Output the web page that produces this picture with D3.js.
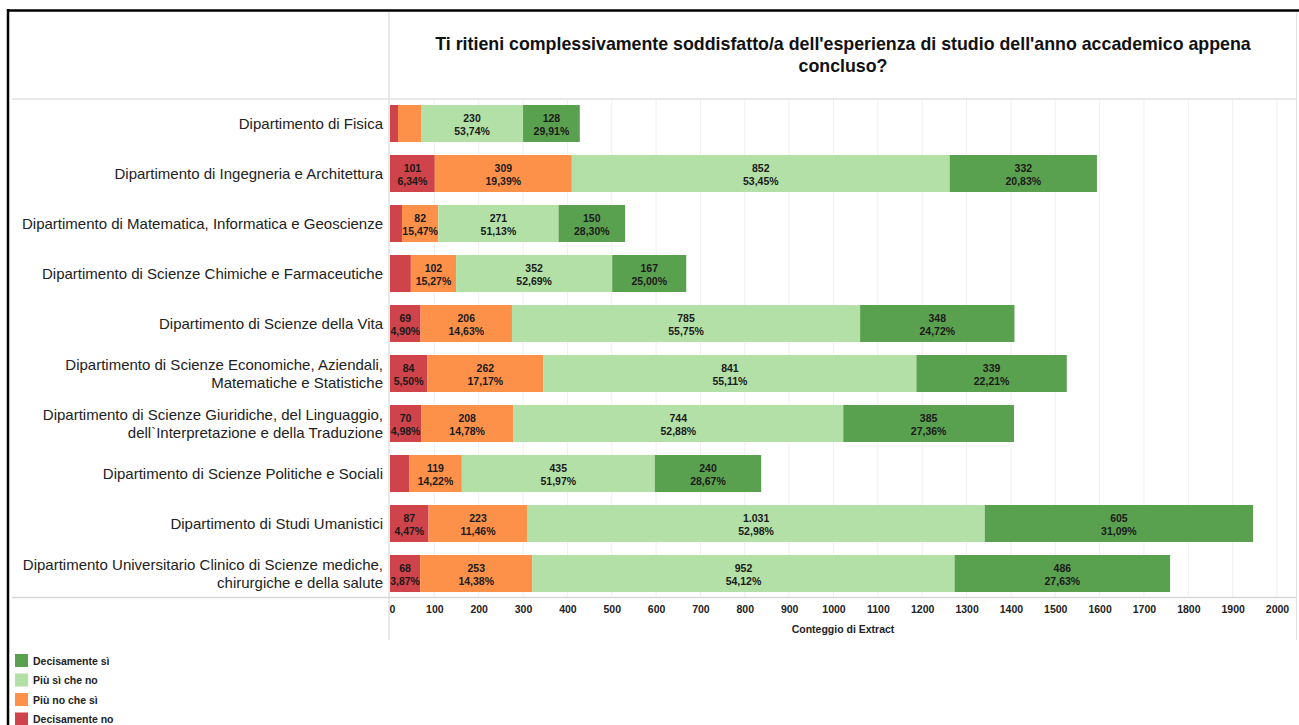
<!DOCTYPE html>
<html>
<head>
    <meta charset="utf-8">
    <title>Soddisfazione anno accademico</title>
    <script src="https://d3js.org/d3.v7.min.js"></script>
    <style>
        body { margin: 0; background: #fff; }
        svg { font-family: "Liberation Sans", Arial, sans-serif; display: block; }
    </style>
</head>
<body>
    <svg width="1299" height="725"></svg>
    <script>
        // data
        var departments = [
            ["Dipartimento di Fisica"],
            ["Dipartimento di Ingegneria e Architettura"],
            ["Dipartimento di Matematica, Informatica e Geoscienze"],
            ["Dipartimento di Scienze Chimiche e Farmaceutiche"],
            ["Dipartimento di Scienze della Vita"],
            ["Dipartimento di Scienze Economiche, Aziendali,", "Matematiche e Statistiche"],
            ["Dipartimento di Scienze Giuridiche, del Linguaggio,", "dell`Interpretazione e della Traduzione"],
            ["Dipartimento di Scienze Politiche e Sociali"],
            ["Dipartimento di Studi Umanistici"],
            ["Dipartimento Universitario Clinico di Scienze mediche,", "chirurgiche e della salute"]
        ];
        var answers = ["Decisamente no", "Più no che sì", "Più sì che no", "Decisamente sì"];
        var decisamenteNo = [18, 101, 27, 47, 69, 84, 70, 43, 87, 68];
        var piuNo = [52, 309, 82, 102, 206, 262, 208, 119, 223, 253];
        var piuSi = [230, 852, 271, 352, 785, 841, 744, 435, 1031, 952];
        var decisamenteSi = [128, 332, 150, 167, 348, 339, 385, 240, 605, 486];
        var xTicks = d3.range(0, 2001, 100);

        var colors = {
            "Decisamente no": "#cf434a",
            "Più no che sì": "#fd9149",
            "Più sì che no": "#b3e0a6",
            "Decisamente sì": "#5aa14f"
        };

        var series = [decisamenteNo, piuNo, piuSi, decisamenteSi];
        var rows = departments.map(function(d, i) {
            var r = { idx: i, total: 0 };
            answers.forEach(function(a, k) { r[a] = series[k][i]; r.total += series[k][i]; });
            return r;
        });

        var svg = d3.select("svg");
        var itFmt = d3.formatLocale({ decimal: ",", thousands: ".", grouping: [3], currency: ["€", ""] });
        var countFmt = itFmt.format(",d");
        var pctFmt = itFmt.format(".2f");

        var x = d3.scaleLinear().domain([0, 2000]).range([390, 1277]);
        var y = d3.scaleBand().domain(d3.range(departments.length))
            .range([98.5, 598.5]).paddingInner(0.26).paddingOuter(0.13);

        // frame and panel lines
        var lineCol = "#e2e2e2";
        svg.append("line").attr("x1", 12).attr("x2", 1297).attr("y1", 99).attr("y2", 99)
            .attr("stroke", lineCol).attr("stroke-width", 1.5);
        svg.append("line").attr("x1", 389).attr("x2", 389).attr("y1", 12).attr("y2", 640)
            .attr("stroke", lineCol).attr("stroke-width", 1.5);
        svg.append("line").attr("x1", 1296.5).attr("x2", 1296.5).attr("y1", 12).attr("y2", 640)
            .attr("stroke", lineCol).attr("stroke-width", 1);

        // gridlines
        svg.append("g").selectAll("line")
            .data(xTicks.slice(1))
            .enter().append("line")
            .attr("x1", function(d) { return x(d); })
            .attr("x2", function(d) { return x(d); })
            .attr("y1", 100).attr("y2", 597)
            .attr("stroke", "#efefef").attr("stroke-width", 1);

        // title
        var title = svg.append("text")
            .attr("text-anchor", "middle")
            .attr("font-size", 17.8).attr("font-weight", "bold").attr("fill", "#111");
        title.append("tspan").attr("x", 843).attr("y", 50)
            .text("Ti ritieni complessivamente soddisfatto/a dell'esperienza di studio dell'anno accademico appena");
        title.append("tspan").attr("x", 843).attr("y", 72).text("concluso?");

        // category labels
        svg.append("g").selectAll("text")
            .data(departments)
            .enter().append("text")
            .attr("text-anchor", "end")
            .attr("font-size", 15).attr("fill", "#222")
            .each(function(d, i) {
                var t = d3.select(this);
                var cy = y(i) + y.bandwidth() / 2;
                var start = cy + 5 - (d.length - 1) * 9;
                d.forEach(function(line, j) {
                    t.append("tspan").attr("x", 383).attr("y", start + j * 18).text(line);
                });
            });

        // stacked bars
        var stack = d3.stack().keys(answers)(rows);
        var layer = svg.append("g").selectAll("g")
            .data(stack)
            .enter().append("g")
            .attr("fill", function(d) { return colors[d.key]; });

        layer.selectAll("rect")
            .data(function(d) { return d; })
            .enter().append("rect")
            .attr("x", function(d) { return x(d[0]); })
            .attr("width", function(d) { return x(d[1]) - x(d[0]); })
            .attr("y", function(d) { return y(d.data.idx); })
            .attr("height", y.bandwidth());

        // segment labels
        stack.forEach(function(s) {
            s.forEach(function(d) {
                var w = x(d[1]) - x(d[0]);
                if (w < 26) return;
                var v = d[1] - d[0];
                var cx = (x(d[0]) + x(d[1])) / 2;
                var cy = y(d.data.idx) + y.bandwidth() / 2;
                var t = svg.append("text")
                    .attr("text-anchor", "middle")
                    .attr("font-size", 10.5).attr("font-weight", "bold").attr("fill", "#1a1a1a");
                t.append("tspan").attr("x", cx).attr("y", cy - 2).text(countFmt(v));
                t.append("tspan").attr("x", cx).attr("y", cy + 11).text(pctFmt(v / d.data.total * 100) + "%");
            });
        });

        // x axis
        var axis = svg.append("g")
            .attr("transform", "translate(0,597)")
            .call(d3.axisBottom(x).tickValues(xTicks).tickFormat(d3.format("d")).tickSize(0).tickPadding(9));
        axis.select(".domain").remove();
        svg.append("line").attr("x1", 12).attr("x2", 1297).attr("y1", 597.5).attr("y2", 597.5)
            .attr("stroke", "#d6d6d6").attr("stroke-width", 1.5);
        axis.selectAll("text")
            .attr("font-family", "Liberation Sans, Arial, sans-serif")
            .attr("font-size", 10.5).attr("font-weight", "bold").attr("fill", "#222");
        // first tick label sits to the right of zero
        axis.selectAll(".tick text").filter(function(d) { return d === 0; })
            .attr("text-anchor", "start").attr("dx", -1);

        svg.append("text")
            .attr("x", 843).attr("y", 633)
            .attr("text-anchor", "middle")
            .attr("font-size", 10.5).attr("font-weight", "bold").attr("fill", "#222")
            .text("Conteggio di Extract");

        // legend
        var legendItems = answers.slice().reverse();
        var legend = svg.append("g").selectAll("g")
            .data(legendItems)
            .enter().append("g")
            .attr("transform", function(d, i) { return "translate(15," + (654 + i * 19.5) + ")"; });
        legend.append("rect")
            .attr("width", 13).attr("height", 13)
            .attr("fill", function(d) { return colors[d]; });
        legend.append("text")
            .attr("x", 18).attr("y", 10.5)
            .attr("font-size", 10.5).attr("font-weight", "bold").attr("fill", "#222")
            .text(function(d) { return d; });

        // black frame (clipped at right and bottom)
        svg.append("line").attr("x1", 7).attr("x2", 1299).attr("y1", 10.5).attr("y2", 10.5)
            .attr("stroke", "#000").attr("stroke-width", 2.5);
        svg.append("line").attr("x1", 8).attr("x2", 8).attr("y1", 9).attr("y2", 725)
            .attr("stroke", "#000").attr("stroke-width", 2.5);
    </script>
</body>
</html>
